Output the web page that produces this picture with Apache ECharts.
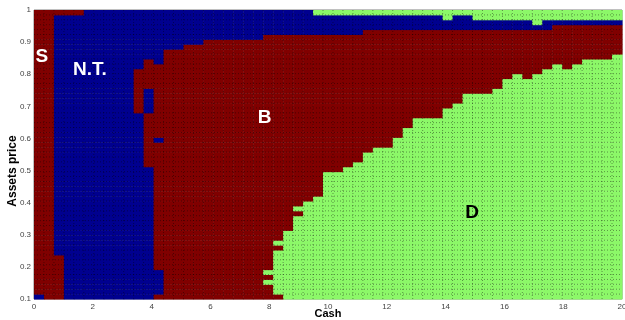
<!DOCTYPE html>
<html><head><meta charset="utf-8">
<script src="https://cdn.jsdelivr.net/npm/echarts@6/dist/echarts.min.js"></script>
<style>html,body{margin:0;padding:0;background:#fff}#c{width:625px;height:320px}</style>
</head><body><div id="c"></div>
<script>
// ---- grid of the policy map ----
const nCols = 59, nRows = 59;
const cashMin = 0, cashMax = 20, priceMin = 0.1, priceMax = 1;
const xTickInterval = 2, yTickInterval = 0.1;

// per-column boundaries, row index counted from the bottom (0..59)
// rows [0,dTop) = D, [dTop,bTop) = B/S, [bTop,ntTop) = N.T., [ntTop,59) = topState
const dTop = [0,0,0,0,0,0,0,0,0,0,0,0,0,0,0,0,0,0,0,0,0,0,0,0,
  10,14,17,20,21,26,26,27,28,30,31,31,33,35,37,37,37,39,40,42,42,42,43,45,46,45,46,47,48,47,48,49,49,49,50];
const bTop = [59,59,9,0,0,0,0,0,0,0,0,0,48,51,51,52,52,53,53,53,53,53,53,
  54,54,54,54,54,54,54,54,54,54,
  55,55,55,55,55,55,55,55,55,55,55,55,55,55,55,55,55,55,55,
  56,56,56,56,56,56,56];
const ntTop = [59,59,58,58,58,59,59,59,59,59,59,59,59,59,59,59,59,59,59,59,59,59,59,59,59,59,59,59,
  58,58,58,58,58,58,58,58,58,58,58,58,58,57,58,58,57,57,57,57,57,57,56,57,57,57,57,57,57,57,57];
const topState = ['S','S','S','S','S'];        // columns 0-4 end in S; the rest end in D
// irregular cells: [column, fromRow, toRow(excl), state]
const patches = [[0,0,1,'NT'],[10,38,47,'B'],[11,27,38,'B'],[11,43,49,'B'],
  [12,1,6,'NT'],[12,32,33,'NT'],[23,5,6,'D'],[23,3,4,'D'],[24,0,1,'B'],[24,11,12,'D'],[26,18,19,'D']];

const regionNames = ['S','N.T.','B','D'];
const regionCash  = [0.27, 1.9, 7.84, 14.9];
const regionPrice = [0.854, 0.813, 0.664, 0.368];
const regionTextColor = ['#fff','#fff','#fff','#000'];

const stateColor = {S:'#800000', B:'#800000', NT:'#00008f', D:'#8cf868'};

// ---- build cells ----
const cw = (cashMax - cashMin) / nCols, rh = (priceMax - priceMin) / nRows;
const cells = [];
const grid = [];
for (let c = 0; c < nCols; c++) {
  const col = [];
  for (let r = 0; r < nRows; r++) {
    let s;
    if (r < dTop[c]) s = 'D';
    else if (r < bTop[c]) s = c <= 4 ? 'S' : 'B';
    else if (r < ntTop[c]) s = 'NT';
    else s = topState[c] || 'D';
    col.push(s);
  }
  grid.push(col);
}
patches.forEach(([c, r0, r1, s]) => { for (let r = r0; r < r1; r++) grid[c][r] = s; });
const stateKeys = ['S','B','NT','D'];
for (let c = 0; c < nCols; c++) for (let r = 0; r < nRows; r++)
  cells.push([cashMin + c * cw, priceMin + r * rh, stateKeys.indexOf(grid[c][r])]);

const lines = [];
for (let k = 1; k < nCols; k++) lines.push([0, cashMin + k * cw]);
for (let k = 1; k < nRows; k++) lines.push([1, priceMin + k * rh]);

const chart = echarts.init(document.getElementById('c'), null, {renderer:'canvas'});
const font = 'Liberation Sans';
chart.setOption({
  animation: false,
  grid: {left: 34, right: 3, top: 10, bottom: 21, show: true, borderColor: '#808080', borderWidth: 1,
    outerBoundsMode: 'none', containLabel: false},
  xAxis: {type:'value', min: cashMin, max: cashMax, interval: xTickInterval,
    name:'Cash', nameLocation:'middle', nameGap: 9, nameMoveOverlap: false,
    nameTextStyle:{fontWeight:'bold', fontSize:11, color:'#000', fontFamily:font, verticalAlign:'top'},
    axisLine:{show:false}, axisTick:{show:false}, splitLine:{show:false},
    axisLabel:{fontSize:8, color:'#444', margin:4, fontFamily:font}},
  yAxis: {type:'value', min: priceMin, max: priceMax, interval: yTickInterval,
    axisLine:{show:false}, axisTick:{show:false}, splitLine:{show:false},
    axisLabel:{fontSize:8, color:'#444', margin:3, fontFamily:font,
      formatter: v => String(Math.round(v * 10) / 10)}},
  graphic: [{type:'text', x: 13, y: 171, rotation: Math.PI / 2,
    style:{text:'Assets price', font:'bold 12px ' + font, fill:'#000', align:'center', verticalAlign:'middle'}}],
  series: [
    {type:'custom', data: cells, z: 2, silent: true,
     renderItem: (params, api) => {
       const x = api.value(0), y = api.value(1);
       const p0 = api.coord([x, y]);
       const p1 = api.coord([x + cw, y + rh]);
       return {type:'rect', shape:{x:p0[0], y:p1[1], width:p1[0]-p0[0]+0.5, height:p0[1]-p1[1]+0.5},
         style:{fill: stateColor[stateKeys[api.value(2)]]}};
     }},
    {type:'custom', data: lines, z: 3, silent: true,
     renderItem: (params, api) => {
       const dir = api.value(0), v = api.value(1);
       let a, b;
       if (dir === 0) { a = api.coord([v, priceMin]); b = api.coord([v, priceMax]); }
       else { a = api.coord([cashMin, v]); b = api.coord([cashMax, v]); }
       return {type:'line', shape:{x1:a[0], y1:a[1], x2:b[0], y2:b[1]},
         style:{stroke:'rgba(0,0,0,0.4)', lineWidth:1, lineDash:[1,2]}};
     }},
    {type:'scatter', symbolSize: 0, z: 10, silent: true, itemStyle: {opacity: 1},
     data: regionNames.map((t, i) => ({name: t, value: [regionCash[i], regionPrice[i]],
       label: {color: regionTextColor[i]}})),
     label: {show: true, position: 'inside', formatter: p => p.name,
       fontSize: 19, fontWeight: 'bold', fontFamily: font}}
  ]
});
</script></body></html>
